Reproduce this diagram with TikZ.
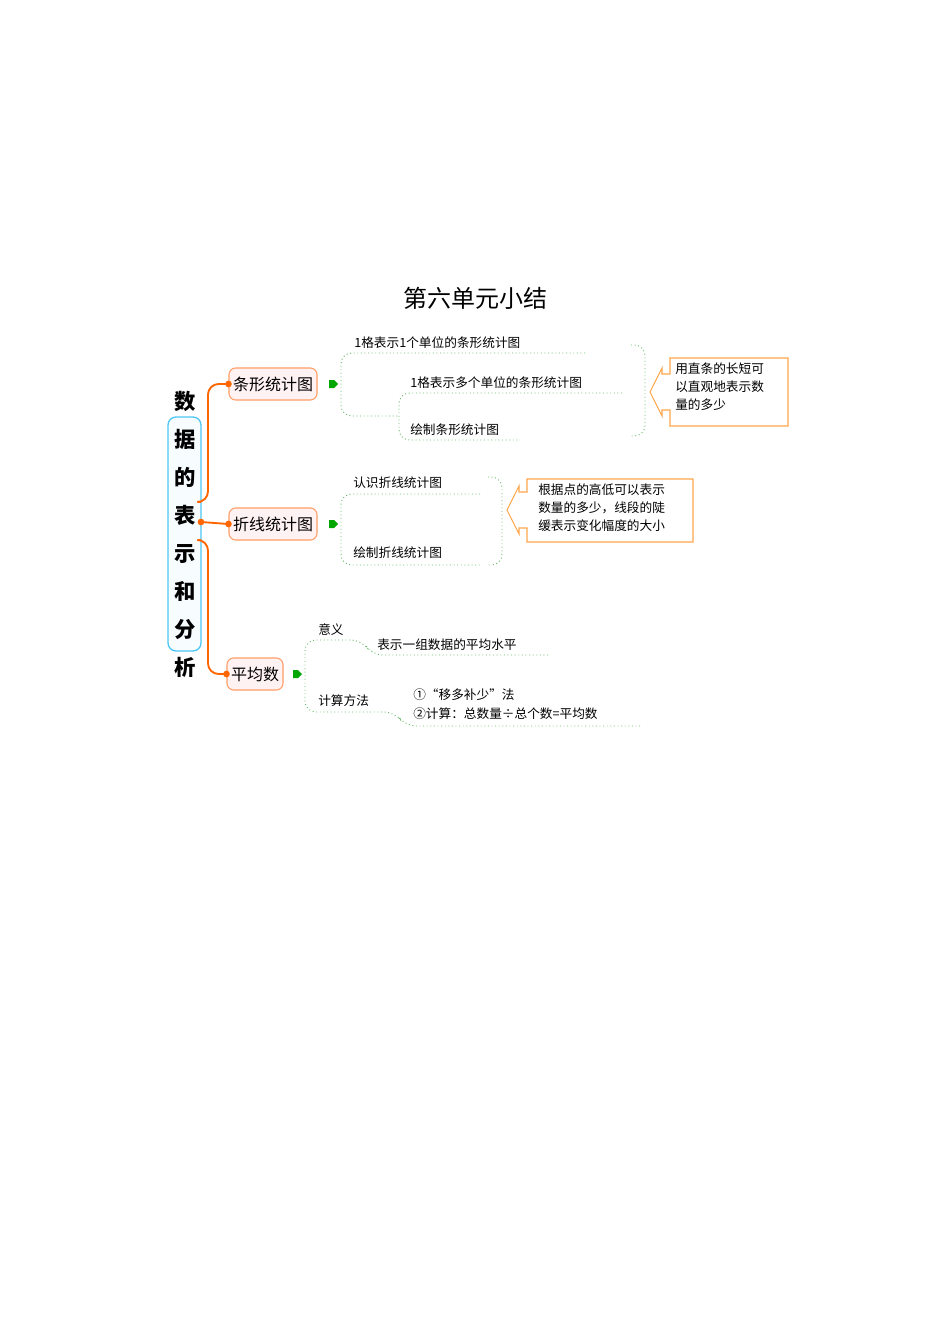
\documentclass[tikz,border=0pt]{standalone}
\usetikzlibrary{calc}
\usepackage{fontspec}
\setmainfont{Noto Sans CJK SC}
\begin{document}
\begin{tikzpicture}[x=0.75pt,y=-0.75pt,
  mainbox/.style={draw=orange!70!red!60,fill=red!5,rounded corners=5pt,line width=0.8pt,font=\fontsize{12}{14}\selectfont,inner sep=3pt,minimum height=24pt},
  leaf/.style={font=\fontsize{9.5}{11}\selectfont,inner sep=0pt},
  gdot/.style={draw=green!55!black!60,dotted,line width=0.7pt,rounded corners=8pt},
  oline/.style={draw=orange!80!red,line width=1.4pt,rounded corners=8pt},
  odot/.style={fill=orange!80!red,circle,inner sep=0pt,minimum size=5pt},
  garrow/.style={fill=green!65!black,draw=none},
  callout/.style={draw=orange!70,line width=0.8pt,fill=white},
  ctext/.style={font=\fontsize{9.5}{13.5}\selectfont,align=left,inner sep=0pt,anchor=north west}]
\useasboundingbox (0,0) rectangle (950,1344);
\node (title) at (475,298) {\fontsize{18}{20}\selectfont 第六单元小结};
% root
\draw[draw=cyan!70,line width=1pt,fill=cyan!3,rounded corners=6pt] (168,417) rectangle (201,651);
\node[font=\fontsize{16}{28.5}\selectfont\bfseries,align=center,inner sep=0pt] (root) at (185,534) {数\\据\\的\\表\\示\\和\\分\\析};
% main nodes
\node[mainbox] (bar) at (273,384) {条形统计图};
\node[mainbox] (line) at (273,524) {折线统计图};
\node[mainbox] (avg) at (255,674) {平均数};
\coordinate (r1) at (201,502);
\coordinate (r2) at (201,522);
\coordinate (r3) at (201,540);
\draw[oline] (r1) -- (208,502) -- (208,384) -- (bar.west);
\draw[oline] (r2) -- (line.west);
\draw[oline] (r3) -- (208,540) -- (208,674) -- (avg.west);
\node[odot] at (bar.west) {}; \node[odot] at (line.west) {}; \node[odot] at (avg.west) {}; \node[odot] at (r2) {};
\foreach \p/\n in {(333,384)/a1,(333,524)/a2,(297,674)/a3}{
  \path \p coordinate (\n);
  \fill[garrow] ($(\n)+(-4,-4)$) -- ++(5,0) -- ++(4,4) -- ++(-4,4) -- ++(-5,0) -- cycle;
}
% bar chart branch
\node[leaf,anchor=south west] (b1) at (354,349) {1格表示1个单位的条形统计图};
\node[leaf,anchor=south west] (b2) at (410,389) {1格表示多个单位的条形统计图};
\node[leaf,anchor=south west] (b3) at (410,436) {绘制条形统计图};
\draw[gdot] (585,353) -- (341,353) -- (341,416) -- (399,416);
\draw[gdot] (622,393) -- (399,393) -- (399,440) -- (520,440);
\draw[gdot] (631,345) -- (645,345) -- (645,436) -- (631,436);
\draw[callout] (670,358) -- (788,358) -- (788,426) -- (670,426) -- (670,410) -- (662,410) -- (662,416) -- (650,392) -- (662,368) -- (662,374) -- (670,374) -- cycle;
\node[ctext] (c1) at (675,363) {用直条的长短可\\以直观地表示数\\量的多少};
% line chart branch
\node[leaf,anchor=south west] (l1) at (353,489) {认识折线统计图};
\node[leaf,anchor=south west] (l2) at (353,559) {绘制折线统计图};
\draw[gdot] (480,494) -- (341,494) -- (341,565) -- (480,565);
\draw[gdot] (488,477) -- (502,477) -- (502,565) -- (488,565);
\draw[callout] (527,479) -- (693,479) -- (693,542) -- (527,542) -- (527,528) -- (519,528) -- (519,534) -- (507,510) -- (519,486) -- (519,492) -- (527,492) -- cycle;
\node[ctext] (c2) at (538,484) {根据点的高低可以表示\\数量的多少，线段的陡\\缓表示变化幅度的大小};
% average branch
\node[leaf,anchor=south west] (m1) at (318,636) {意义};
\node[leaf,anchor=south west] (m2) at (377,651) {表示一组数据的平均水平};
\node[leaf,anchor=south west] (m3) at (318,707) {计算方法};
\node[leaf,anchor=south west] (m4) at (413,701) {①“移多补少”法};
\node[leaf,anchor=south west] (m5) at (413,720) {②计算：总数量÷总个数=平均数};
\draw[gdot] (548,655) -- (372,655) -- (362,640) -- (305,640) -- (305,712) -- (395,712) -- (405,726) -- (640,726);
\end{tikzpicture}
\end{document}
